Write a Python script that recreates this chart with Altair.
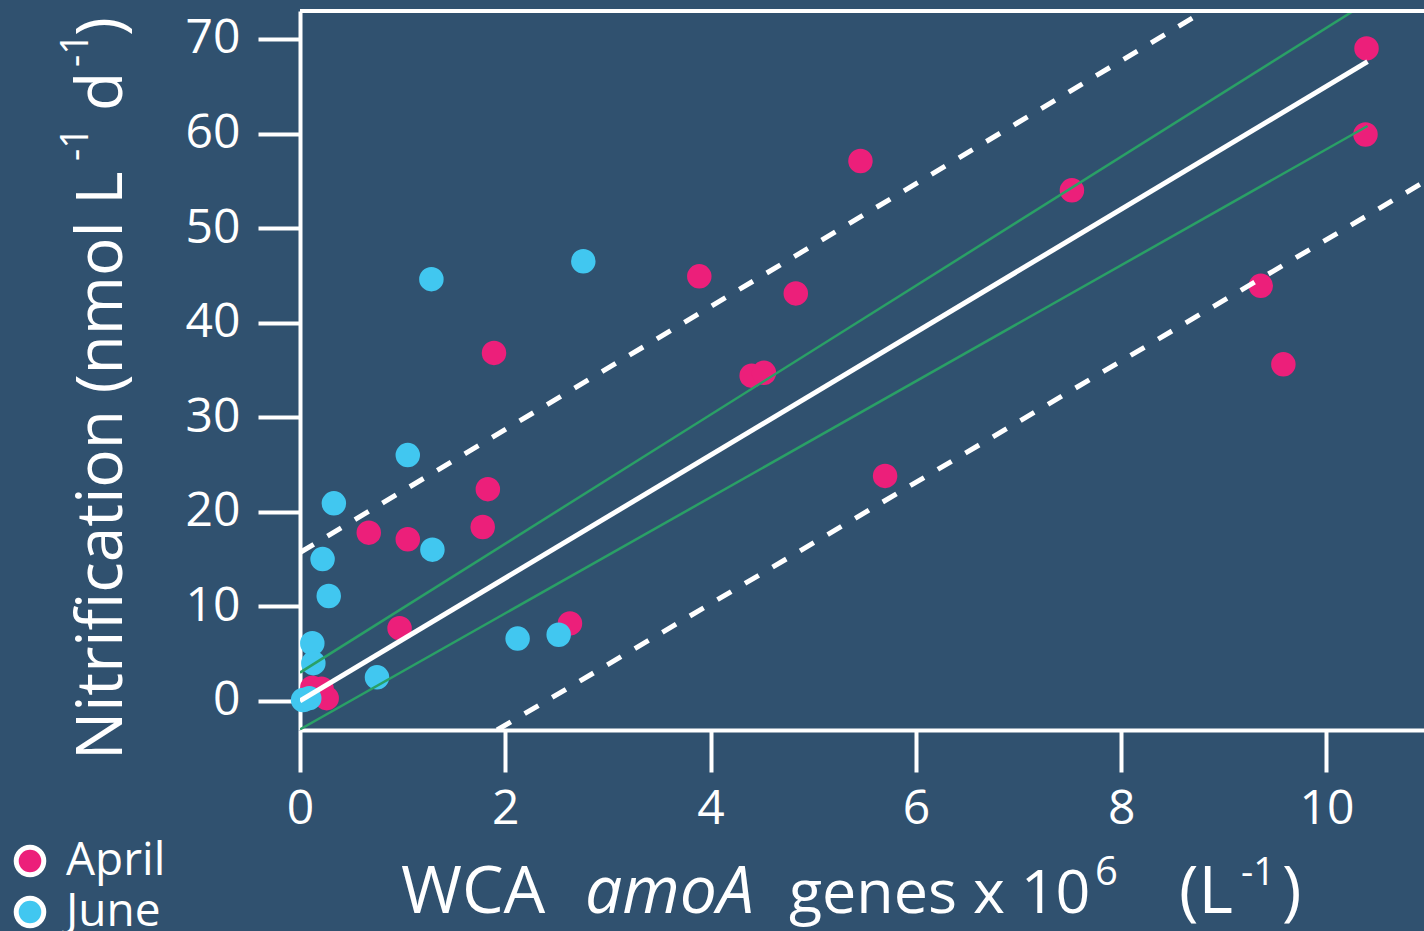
import altair as alt
import pandas as pd

# ---- data ----
april_x = [10.39, 10.38, 5.46, 7.52, 3.89, 4.83, 9.36, 9.58, 1.89, 4.40, 4.52, 5.70,
           1.83, 1.78, 0.67, 1.05, 2.63, 0.97, 0.12, 0.26, 0.21]
april_y = [69.0, 59.9, 57.1, 54.0, 44.9, 43.1, 43.9, 35.6, 36.8, 34.4, 34.7, 23.8,
           22.4, 18.4, 17.8, 17.1, 8.2, 7.7, 1.4, 0.3, 1.3]
june_x = [2.76, 1.28, 1.05, 0.33, 0.22, 1.29, 0.28, 0.12, 0.13, 2.12, 2.52, 0.75, 0.03, 0.09]
june_y = [46.5, 44.6, 26.0, 20.9, 15.0, 16.0, 11.1, 6.1, 4.0, 6.6, 7.0, 2.5, 0.1, 0.3]

# regression line, confidence band edges, prediction band edges (end points)
fit_x = [0.0, 10.4]
fit_y = [0.0, 67.6]
ci_up_x = [0.0, 11.0]
ci_up_y = [3.0, 78.0]
ci_lo_x = [0.0, 10.4]
ci_lo_y = [-3.0, 60.8]
pi_up_x = [0.0, 11.0]
pi_up_y = [15.7, 87.2]
pi_lo_x = [1.92, 11.0]
pi_lo_y = [-3.07, 55.2]

x_ticks = [0, 2, 4, 6, 8, 10]
y_ticks = [0, 10, 20, 30, 40, 50, 60, 70]
groups = ["April", "June"]

BG = "#30516f"
PINK = "#ec1f7a"
CYAN = "#41c7f0"
GREEN = "#2aa066"
FONT = "Open Sans"

W, H = 1124, 719

pts = pd.DataFrame({
    "x": april_x + june_x,
    "y": april_y + june_y,
    "month": ["April"] * len(april_x) + ["June"] * len(june_x),
    "order": [0] * len(april_x) + [1] * len(june_x),
})

xs = alt.Scale(domain=[0, 10.95], nice=False, zero=False)
ys = alt.Scale(domain=[-3.07, 72.96], nice=False, zero=False)

xaxis = alt.Axis(values=x_ticks, title=None, format="d", labelFontSize=48, labelFont=FONT,
                 labelColor="white", tickColor="white", tickWidth=4, tickSize=42,
                 domainColor="white", domainWidth=4, labelPadding=13, grid=False,
                 labelFlush=False)
yaxis = alt.Axis(values=y_ticks, title=None, format="d", labelFontSize=48, labelFont=FONT,
                 labelColor="white", tickColor="white", tickWidth=4, tickSize=42,
                 domainColor="white", domainWidth=4, labelPadding=18, grid=False,
                 labelFlush=False)

points = alt.Chart(pts).mark_circle(size=600, opacity=1).encode(
    x=alt.X("x:Q", scale=xs, axis=xaxis),
    y=alt.Y("y:Q", scale=ys, axis=yaxis),
    color=alt.Color("month:N", scale=alt.Scale(domain=groups, range=[PINK, CYAN]),
                    legend=alt.Legend(orient="none", legendX=-293, legendY=827, title=None,
                                      labelFontSize=46, labelFont=FONT, labelColor="white",
                                      symbolType="circle", symbolSize=760,
                                      symbolStrokeColor="white", symbolStrokeWidth=5,
                                      symbolOpacity=1, labelOffset=13, rowPadding=3)),
    order=alt.Order("order:Q"),
)


def seg(xv, yv, **kw):
    df = pd.DataFrame({"x": xv, "y": yv})
    return alt.Chart(df).mark_line(clip=True, **kw).encode(
        x=alt.X("x:Q", scale=xs), y=alt.Y("y:Q", scale=ys))


fit = seg(fit_x, fit_y, color="white", strokeWidth=5)
ci_up = seg(ci_up_x, ci_up_y, color=GREEN, strokeWidth=2.5)
ci_lo = seg(ci_lo_x, ci_lo_y, color=GREEN, strokeWidth=2.5)
pi_up = seg(pi_up_x, pi_up_y, color="white", strokeWidth=5, strokeDash=[16, 16])
pi_lo = seg(pi_lo_x, pi_lo_y, color="white", strokeWidth=5, strokeDash=[16, 16])

top_border = alt.Chart(pd.DataFrame({"a": [0]})).mark_rule(color="white", strokeWidth=4).encode(
    x=alt.value(0), x2=alt.value(W), y=alt.value(0))


# titles as text pieces
def txt(s, px, py, size, angle=0, style="normal"):
    df = pd.DataFrame({"t": [s]})
    kw = dict(fontSize=size, font=FONT, color="white", align="left",
              baseline="alphabetic", fontStyle=style)
    if angle:
        kw["angle"] = angle
    return alt.Chart(df).mark_text(**kw).encode(
        text="t:N", x=alt.value(px), y=alt.value(py))


x_title = [
    txt("WCA", 101, 902, 66),
    txt("amoA", 285, 902, 66, style="italic"),
    txt("genes x 10", 489, 902, 61),
    txt("6", 795, 874, 40),
    txt("(L", 879, 902, 66),
    txt("-1", 941, 874, 38),
    txt(")", 982, 902, 66),
]
y_title = [
    txt("Nitrification (nmol L", -178, 749, 64, angle=270),
    txt("-1", -212, 150, 38, angle=270),
    txt("d", -178, 100, 64, angle=270),
    txt("-1", -212, 56, 38, angle=270),
    txt(")", -178, 25, 64, angle=270),
]

chart = alt.layer(points, ci_up, ci_lo, fit, pi_up, pi_lo, top_border, *x_title, *y_title).properties(
    width=W, height=H, background=BG,
    padding={"left": 300, "top": 11, "right": 0, "bottom": 201},
    autosize=alt.AutoSizeParams(type="none"),
).configure_view(stroke=None)

chart.save("out.html", embed_options={"renderer": "svg", "actions": False})
